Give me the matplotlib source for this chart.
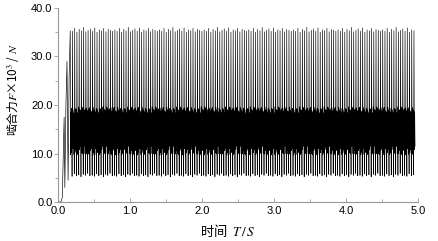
import matplotlib
matplotlib.use("Agg")
import matplotlib.pyplot as plt
from matplotlib.ticker import MultipleLocator, FormatStrFormatter

plt.rcParams['font.family'] = ['Liberation Sans', 'Noto Sans CJK SC', 'DejaVu Sans']
plt.rcParams['mathtext.fontset'] = 'stix'

# --- data ---
# start-up transient (time s, force x10^3 N)
startup_t = [0.0, 0.040, 0.060, 0.085, 0.095, 0.110, 0.125, 0.140, 0.155, 0.170]
startup_f = [0.0, 0.0, 1.0, 17.5, 3.0, 20.0, 29.0, 4.5, 26.0, 35.3]
# steady mesh period (s) and one-period waveform key points
period = 0.031
cycle_phase = [0.0, 0.18, 0.34, 0.50, 0.66, 0.82]
# peak heights of successive spikes (repeated)
peak_values = [35.5, 35.2, 35.8, 35.0, 35.6, 35.3, 36.0, 35.1, 35.4, 35.7,
               35.2, 35.9, 35.0, 35.5, 35.3, 35.8, 35.1, 35.6, 35.4, 35.2]
trough_values = [5.5, 5.3, 5.8, 5.4, 5.6, 5.2, 5.7, 5.5, 5.9, 5.4]
mid_high = [19.2, 18.8, 19.5, 18.6, 19.0, 19.3, 18.4, 19.1, 19.6, 18.9, 19.4]
mid_low = [10.0, 10.6, 9.7, 11.0, 10.2, 9.8, 10.8, 10.1, 11.5, 9.9]
t_end = 4.96

# --- build series ---
t = list(startup_t)
f = list(startup_f)
k = 0
t0 = startup_t[-1] - cycle_phase[1] * period
while True:
    base = t0 + k * period
    if base > t_end:
        break
    for j, ph in enumerate(cycle_phase):
        if k == 0 and j < 2:
            continue
        tt = base + ph * period
        if tt > t_end:
            break
        if j == 0:
            v = trough_values[k % len(trough_values)]
        elif j == 1:
            v = peak_values[k % len(peak_values)]
        elif j in (2, 4):
            v = mid_low[(k + j) % len(mid_low)]
        else:
            v = mid_high[(k + j) % len(mid_high)]
        t.append(tt)
        f.append(v)
    k += 1

fig = plt.figure(figsize=(4.39, 2.41), dpi=100)
ax = fig.add_axes([58/439, 1 - 202/241, 360/439, 194/241])
ax.plot(t, f, color='black', lw=0.45)

ax.set_xlim(0, 5.0)
ax.set_ylim(0, 40.0)
ax.xaxis.set_major_locator(MultipleLocator(1.0))
ax.xaxis.set_minor_locator(MultipleLocator(0.5))
ax.yaxis.set_major_locator(MultipleLocator(10.0))
ax.yaxis.set_minor_locator(MultipleLocator(5.0))
ax.xaxis.set_major_formatter(FormatStrFormatter('%.1f'))
ax.yaxis.set_major_formatter(FormatStrFormatter('%.1f'))

for s in ['top', 'right']:
    ax.spines[s].set_visible(False)
for s in ['left', 'bottom']:
    ax.spines[s].set_color('#999999')
    ax.spines[s].set_linewidth(0.8)
ax.tick_params(axis='x', which='both', direction='in', colors='#999999',
               labelcolor='black', labelsize=8, pad=3)
ax.tick_params(axis='y', which='both', direction='out', colors='#999999',
               labelcolor='black', labelsize=8, pad=1)
ax.tick_params(which='major', length=3, width=0.6)
ax.tick_params(which='minor', length=2, width=0.6)

ax.set_xlabel('时间  $T\\,/\\,S$', fontsize=9.5,
              family=['Noto Sans CJK SC', 'DejaVu Sans'])
ax.xaxis.set_label_coords(0.472, -0.105)
ax.set_ylabel('啮合力$F$×10$^3$ / $N$', fontsize=8.5,
              family=['Noto Sans CJK SC', 'DejaVu Sans'])
ax.yaxis.set_label_coords(-0.10, 0.58)

fig.savefig('out.png', dpi=100)
